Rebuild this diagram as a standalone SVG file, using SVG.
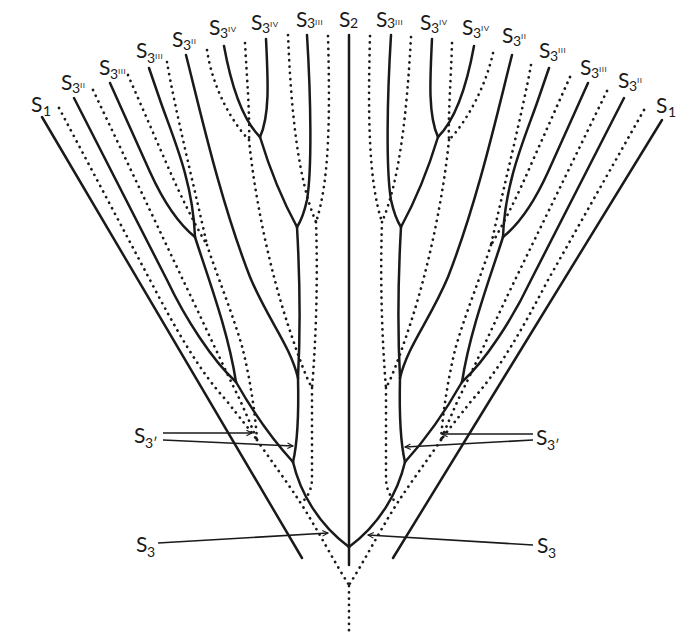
<svg xmlns="http://www.w3.org/2000/svg" width="700" height="643" viewBox="0 0 700 643">
<defs>
<style>
.s{fill:none;stroke:#1a1a1a;stroke-width:2.5;stroke-linecap:round;stroke-linejoin:round}
.d{fill:none;stroke:#1a1a1a;stroke-width:2.7;stroke-linecap:round;stroke-dasharray:0.1 6.2}
.a{fill:none;stroke:#1a1a1a;stroke-width:1.6}
text{font-family:Lato,"Liberation Sans",sans-serif;fill:#1a1a1a}
.S{font-size:21px}
.b{font-size:14px}
.p{font-size:8px;font-family:"Liberation Sans","DejaVu Sans",sans-serif;letter-spacing:0.5px}
</style>
<marker id="arr" viewBox="0 0 10 10" refX="9" refY="5" markerWidth="9" markerHeight="7" markerUnits="userSpaceOnUse" orient="auto">
<path d="M1,1 L9,5 L1,9" fill="none" stroke="#1a1a1a" stroke-width="1.6"/>
</marker>
</defs>
<rect width="700" height="643" fill="#fff"/>

<g id="connectors">
<g id="center">
<path class="s" d="M349,35 V565"/>
<path class="d" d="M349,586 V635"/>
<path class="s" d="M42,117 L302,558"/>
<path class="s" d="M662,120 L393,558"/>
</g>
<g id="tree-left">
<path class="s" d="M293,462 C300,492 318,524 349,547"/>
<path class="s" d="M236,382 Q262,428 293,462"/>
<path class="s" d="M298,378 C299,420 297,445 293,462"/>
<path class="s" d="M195,237 C207,275 228,330 236,382"/>
<path class="s" d="M74,98 L167,280 C185,318 212,360 236,382"/>
<path class="s" d="M110,83 L150,172 C165,205 180,225 195,237"/>
<path class="s" d="M149,68 L160,100 C172,135 193,180 195,237"/>
<path class="s" d="M186,55 C200,110 220,200 250,277 C268,320 290,345 298,378"/>
<path class="s" d="M297,227 C300,280 300,340 298,378"/>
<path class="s" d="M307,35 C311,100 312,170 307,200 Q303,218 297,227"/>
<path class="s" d="M260,137 C270,170 285,205 297,227"/>
<path class="s" d="M224,46 C232,90 245,122 260,137"/>
<path class="s" d="M266,39 C268,80 270,115 260,137"/>
<path class="d" d="M59,108 L150,280 C175,328 200,372 226,400 C240,418 250,430 257,440"/>
<path class="d" d="M93,90 L183,280 C200,315 225,370 240,400 C248,418 253,430 257,440"/>
<path class="d" d="M128,75 L165,160 C180,195 195,225 207,245"/>
<path class="d" d="M167,62 C175,110 195,190 207,245"/>
<path class="d" d="M207,245 C215,270 235,320 243,350 C250,380 255,410 257,440"/>
<path class="d" d="M257,440 C272,462 287,482 300,502 C318,530 333,560 349,585"/>
<path class="d" d="M312,388 L312,480 Q311,495 301,503"/>
<path class="d" d="M288,35 C291,110 298,180 316,222"/>
<path class="d" d="M328,36 C330,110 330,180 316,222"/>
<path class="d" d="M316,222 C318,280 316,340 312,388"/>
<path class="d" d="M245,43 C247,80 250,115 249,140"/>
<path class="d" d="M207,50 C212,85 230,120 249,140"/>
<path class="d" d="M249,140 C255,200 270,270 288,325 C298,355 305,375 312,388"/>
</g>
<g id="tree-right" transform="matrix(-1 0 0 1 698 0)">
<path class="s" d="M293,462 C300,492 318,524 349,547"/>
<path class="s" d="M236,382 Q262,428 293,462"/>
<path class="s" d="M298,378 C299,420 297,445 293,462"/>
<path class="s" d="M195,237 C207,275 228,330 236,382"/>
<path class="s" d="M74,98 L167,280 C185,318 212,360 236,382"/>
<path class="s" d="M110,83 L150,172 C165,205 180,225 195,237"/>
<path class="s" d="M149,68 L160,100 C172,135 193,180 195,237"/>
<path class="s" d="M186,55 C200,110 220,200 250,277 C268,320 290,345 298,378"/>
<path class="s" d="M297,227 C300,280 300,340 298,378"/>
<path class="s" d="M307,35 C311,100 312,170 307,200 Q303,218 297,227"/>
<path class="s" d="M260,137 C270,170 285,205 297,227"/>
<path class="s" d="M224,46 C232,90 245,122 260,137"/>
<path class="s" d="M266,39 C268,80 270,115 260,137"/>
<path class="d" d="M54,110 L150,280 C175,328 200,372 226,400 C240,418 250,430 257,440"/>
<path class="d" d="M91,91 L183,280 C200,315 225,370 240,400 C248,418 253,430 257,440"/>
<path class="d" d="M128,77 L165,160 C180,195 195,225 207,245"/>
<path class="d" d="M167,65 C175,110 195,190 207,245"/>
<path class="d" d="M207,245 C215,270 235,320 243,350 C250,380 255,410 257,440"/>
<path class="d" d="M257,440 C272,462 287,482 300,502 C318,530 333,560 349,585"/>
<path class="d" d="M312,388 L312,480 Q311,495 301,503"/>
<path class="d" d="M287,37 C291,110 298,180 316,222"/>
<path class="d" d="M328,36 C330,110 330,180 316,222"/>
<path class="d" d="M316,222 C318,280 316,340 312,388"/>
<path class="d" d="M246,43 C247,80 250,115 249,140"/>
<path class="d" d="M205,53 C212,85 230,120 249,140"/>
<path class="d" d="M249,140 C255,200 270,270 288,325 C298,355 305,375 312,388"/>
</g>
<g id="arrows">
<path class="a" marker-end="url(#arr)" d="M163,433 L252,433"/>
<path class="a" marker-end="url(#arr)" d="M163,440 L293,446"/>
<path class="a" marker-end="url(#arr)" d="M158,543 L328,533"/>
<path class="a" marker-end="url(#arr)" d="M533,434 L442,434"/>
<path class="a" marker-end="url(#arr)" d="M533,440 L405,447"/>
<path class="a" marker-end="url(#arr)" d="M533,545 L368,535"/>
</g>
</g>

<g id="labels-top">
<g id="L-S1"><text class="S" x="31" y="112">S</text><text class="b" x="43" y="116">1</text></g>
<g id="L-S3II-a"><text class="S" x="61" y="90">S</text><text class="b" x="72" y="93">3</text><text class="p" x="80" y="88">II</text></g>
<g id="L-S3III-a"><text class="S" x="99" y="75">S</text><text class="b" x="110" y="79">3</text><text class="p" x="118" y="74">III</text></g>
<g id="L-S3III-b"><text class="S" x="136" y="58">S</text><text class="b" x="147" y="63">3</text><text class="p" x="155" y="59">III</text></g>
<g id="L-S3II-b"><text class="S" x="172" y="47">S</text><text class="b" x="183" y="50">3</text><text class="p" x="191" y="44">II</text></g>
<g id="L-S3IV-a"><text class="S" x="209" y="35">S</text><text class="b" x="220" y="38">3</text><text class="p" x="228" y="32">IV</text></g>
<g id="L-S3IV-b"><text class="S" x="251" y="30">S</text><text class="b" x="262" y="33">3</text><text class="p" x="270" y="27">IV</text></g>
<g id="L-S3III-c"><text class="S" x="296" y="27">S</text><text class="b" x="307" y="28">3</text><text class="p" x="315" y="25">III</text></g>
<g id="S2"><text class="S" x="339" y="27">S</text><text class="b" x="350" y="28">2</text></g>
<g id="R-S3III-c"><text class="S" x="376" y="27">S</text><text class="b" x="387" y="28">3</text><text class="p" x="395" y="25">III</text></g>
<g id="R-S3IV-b"><text class="S" x="420" y="30">S</text><text class="b" x="431" y="33">3</text><text class="p" x="439" y="25">IV</text></g>
<g id="R-S3IV-a"><text class="S" x="462" y="35">S</text><text class="b" x="473" y="38">3</text><text class="p" x="481" y="31">IV</text></g>
<g id="R-S3II-b"><text class="S" x="502" y="43">S</text><text class="b" x="513" y="46">3</text><text class="p" x="521" y="39">II</text></g>
<g id="R-S3III-b"><text class="S" x="539" y="58">S</text><text class="b" x="550" y="61">3</text><text class="p" x="558" y="53">III</text></g>
<g id="R-S3III-a"><text class="S" x="580" y="75">S</text><text class="b" x="591" y="78">3</text><text class="p" x="599" y="72">III</text></g>
<g id="R-S3II-a"><text class="S" x="618" y="88">S</text><text class="b" x="629" y="91">3</text><text class="p" x="637" y="83">II</text></g>
<g id="R-S1"><text class="S" x="656" y="113">S</text><text class="b" x="668" y="117">1</text></g>
</g>
<g id="labels-bottom">
<g id="L-S3prime"><text class="S" x="134" y="443">S</text><text class="b" x="145" y="448">3′</text></g>
<g id="L-S3"><text class="S" x="136" y="552">S</text><text class="b" x="147" y="557">3</text></g>
<g id="R-S3prime"><text class="S" x="536" y="445">S</text><text class="b" x="547" y="450">3′</text></g>
<g id="R-S3"><text class="S" x="537" y="553">S</text><text class="b" x="548" y="558">3</text></g>
</g>
</svg>
